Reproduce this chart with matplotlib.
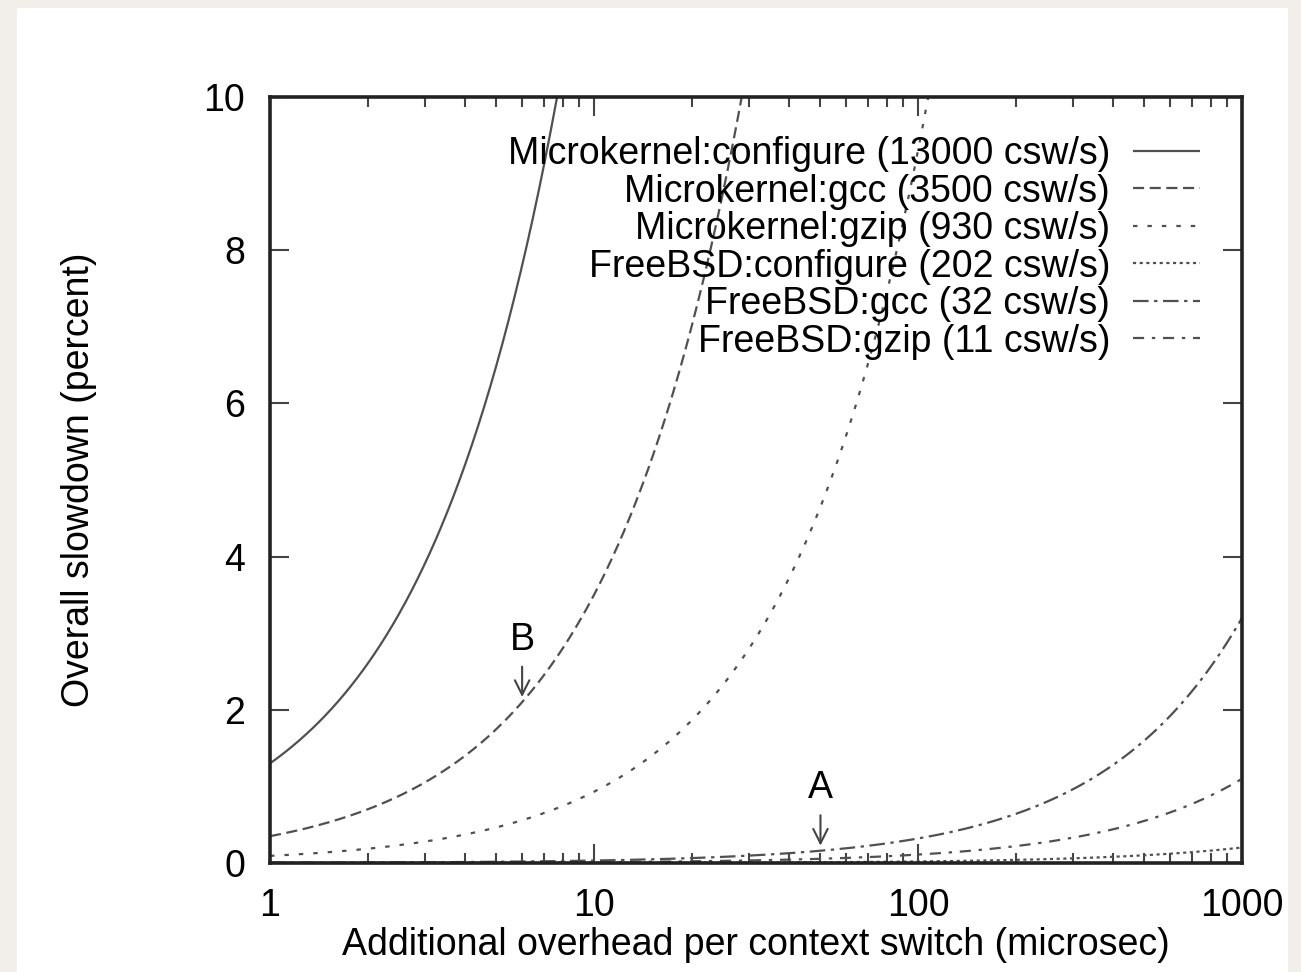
#!/usr/bin/env python3
"""Overall slowdown vs. additional context-switch overhead (gnuplot-style)."""
import matplotlib
matplotlib.use("Agg")
import matplotlib.pyplot as plt
import numpy as np
from matplotlib.patches import Rectangle
from matplotlib.ticker import FixedLocator, LogLocator, NullFormatter

labels = [
    "Microkernel:configure (13000 csw/s)",
    "Microkernel:gcc (3500 csw/s)",
    "Microkernel:gzip (930 csw/s)",
    "FreeBSD:configure (202 csw/s)",
    "FreeBSD:gcc (32 csw/s)",
    "FreeBSD:gzip (11 csw/s)",
]
# context switches per second as plotted
plotted_rates = [13000, 3500, 930, 2.02, 32, 11]
styles = [
    (0, ()),
    (0, (5, 2.5)),
    (0, (2, 4.5)),
    (0, (1.4, 1.6)),
    (0, (7, 2.5, 1.5, 2.5)),
    (0, (5, 3.5, 1.5, 3.5)),
]
x_ticks = [1, 10, 100, 1000]
y_ticks = [0, 2, 4, 6, 8, 10]
notes = [("A", 50), ("B", 6)]  # label, overhead (microsec)
note_rates = {"A": 32, "B": 3500}  # curve each arrow points at

plt.rcParams["font.family"] = ["Liberation Sans", "DejaVu Sans"]
FS = 27
INK = "#505050"

fig = plt.figure(figsize=(13.01, 9.72), dpi=100, facecolor="#f2efea")
fig.patches.append(Rectangle((17 / 1301, 0), 1271 / 1301, 964 / 972,
                             transform=fig.transFigure, facecolor="white",
                             edgecolor="none", zorder=-10))
ax = fig.add_axes([270 / 1301, 1 - 863 / 972, 972 / 1301, 766 / 972])
ax.set_facecolor("white")

x = np.logspace(0, 3, 800)
handles = []
for lab, rate, ls in zip(labels, plotted_rates, styles):
    y = rate * x * 1e-4
    h, = ax.plot(x, y, color=INK, lw=1.6, linestyle=ls, label=lab)
    handles.append(h)

for name, ov in notes:
    yv = note_rates[name] * ov * 1e-4
    ax.annotate("", xy=(ov, yv + 0.03), xytext=(ov, yv + 0.5),
                arrowprops=dict(arrowstyle="->", color="#444444", lw=1.5,
                                mutation_scale=26))
    ax.text(ov, yv + 0.58, name, ha="center", va="bottom", fontsize=FS, color="black")

ax.set_xscale("log")
ax.set_xlim(1, 1000)
ax.set_ylim(0, 10)
ax.xaxis.set_major_locator(FixedLocator(x_ticks))
ax.set_xticklabels([str(v) for v in x_ticks])
ax.xaxis.set_minor_locator(LogLocator(base=10, subs=np.arange(2, 10)))
ax.xaxis.set_minor_formatter(NullFormatter())
ax.set_yticks(y_ticks)
ax.set_yticklabels([str(v) for v in y_ticks])
ax.tick_params(which="both", direction="in", top=True, right=True,
               labelsize=FS, colors="#444444", labelcolor="black", width=1.5)
ax.tick_params(which="major", length=14, pad=18)
ax.tick_params(which="minor", length=7)
for sp in ax.spines.values():
    sp.set_linewidth(2.6)
    sp.set_color("#222222")

ax.set_xlabel("Additional overhead per context switch (microsec)", fontsize=FS, labelpad=2)
ax.set_ylabel("Overall slowdown (percent)", fontsize=FS)
ax.yaxis.set_label_coords(-0.178, 0.5)

leg = ax.legend(handles=handles, loc="upper right", bbox_to_anchor=(0.957, 0.949),
                frameon=False, fontsize=FS, markerfirst=False, handlelength=1.8,
                handletextpad=0.6, labelspacing=0.04, borderaxespad=0, borderpad=0)
for t in leg.get_texts():
    t.set_ha("right")

fig.savefig("out.png", dpi=100, facecolor=fig.get_facecolor())
